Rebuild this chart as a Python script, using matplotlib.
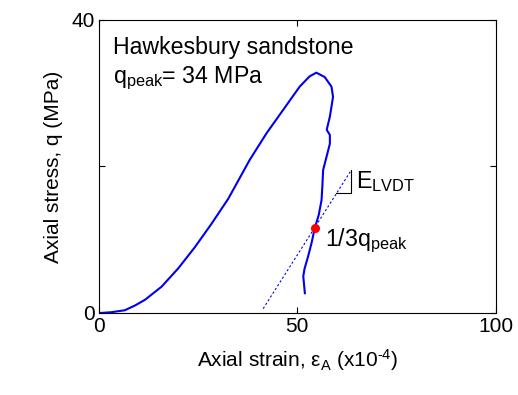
import matplotlib.pyplot as plt

plt.rcParams['font.family'] = 'Liberation Sans'
plt.rcParams['mathtext.fontset'] = 'custom'
plt.rcParams['mathtext.rm'] = 'Liberation Sans'
plt.rcParams['mathtext.it'] = 'Liberation Sans'

# stress-strain curve
strain = [0.3, 3.0, 6.5, 9.0, 11.6, 15.8, 20.0, 24.2, 28.4, 32.6, 38.0, 42.2,
          46.4, 50.6, 53.1, 54.8, 56.9, 58.6, 59.0, 58.2, 57.4, 58.2, 58.2,
          56.5, 56.3, 56.1, 55.4, 54.4, 53.6, 52.7, 51.8, 51.5, 51.9]
stress = [0.0, 0.1, 0.37, 1.0, 1.8, 3.6, 6.1, 9.0, 12.2, 15.6, 20.9, 24.5,
          27.7, 30.9, 32.3, 32.8, 32.2, 30.9, 29.5, 26.8, 25.0, 24.3, 23.1,
          19.5, 17.2, 15.4, 13.4, 11.6, 9.6, 7.7, 6.0, 5.0, 2.7]
third_peak = (54.4, 11.6)
modulus_x = [41.4, 63.6]
modulus_y = [0.6, 19.5]
tri_x = [59.8, 63.6, 63.6]
tri_y = [16.4, 16.4, 19.5]

fs = 16.7

fig = plt.figure(figsize=(5.18, 3.95), dpi=100)
ax = fig.add_axes([0.191, 0.2076, 0.766, 0.742])

ax.plot(strain, stress, color='#0000ee', lw=1.5)
ax.plot(modulus_x, modulus_y, color='#0000ee', lw=0.8, ls=(0, (2, 2)))
ax.plot(tri_x, tri_y, color='black', lw=0.8)
ax.plot(*third_peak, 'o', color='red', ms=5.5, zorder=5)

ax.text(3.6, 36.2, 'Hawkesbury sandstone', fontsize=fs, va='center')
ax.text(3.6, 32.0, r'q$_{\rm peak}$= 34 MPa', fontsize=fs, va='center')
ax.text(64.8, 18.0, r'E$_{\rm LVDT}$', fontsize=fs, va='center')
ax.text(57.0, 9.8, r'1/3q$_{\rm peak}$', fontsize=fs, va='center')

ax.set_xlim(0, 100)
ax.set_ylim(0, 40)
ax.set_xticks([0, 50, 100])
ax.set_yticks([0, 20, 40])
ax.set_yticklabels(['0', '', '40'])
ax.tick_params(direction='in', top=True, right=True, length=4, labelsize=15, pad=3)
ax.set_xlabel('Axial strain, ε$_{\\rm A}$ (x10$^{\u2010\\rm 4}$)', fontsize=15, labelpad=8)
ax.set_ylabel('Axial stress, q (MPa)', fontsize=15, labelpad=6)

fig.savefig('out.png', dpi=100)
